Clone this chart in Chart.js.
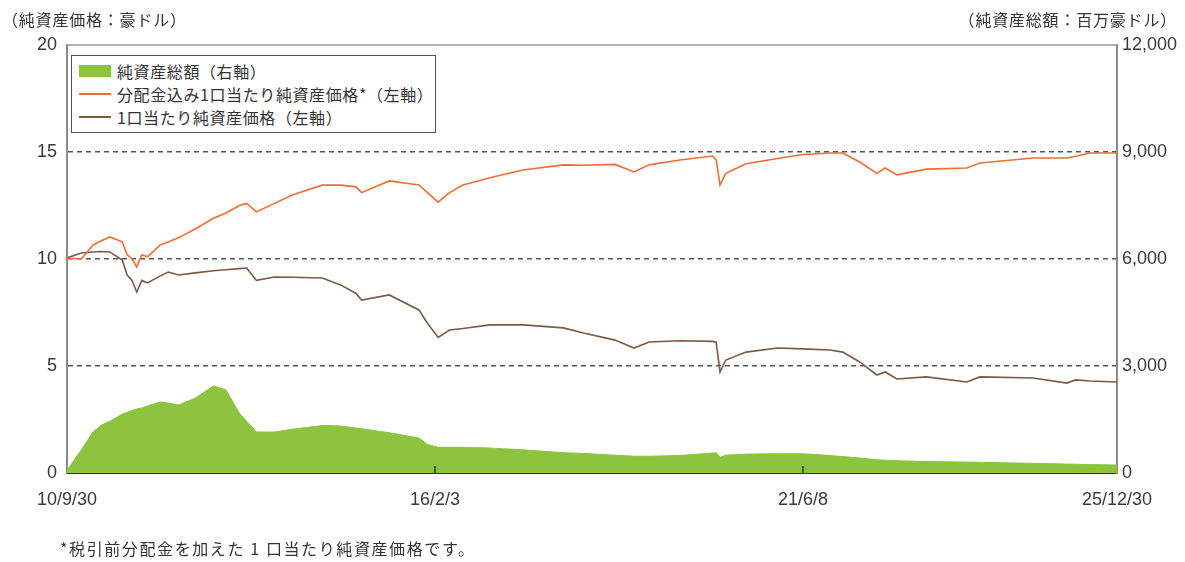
<!DOCTYPE html>
<html lang="ja">
<head>
<meta charset="utf-8">
<title>純資産価格と純資産総額の推移</title>
<script src="https://cdn.jsdelivr.net/npm/chart.js@4.4.1/dist/chart.umd.min.js"></script>
<style>
  body { margin: 0; background: #fff; }
  #wrap { position: relative; width: 1185px; height: 562px; font-family: "Noto Sans CJK JP", sans-serif; color: #333; }
  #wrap canvas { position: absolute; left: 0; top: 0; }
  .note { position: absolute; white-space: nowrap; font-size: 16px; letter-spacing: 0.8px; }
  #legend { position: absolute; left: 71px; top: 55px; width: 363px; border: 1.5px solid #555; background: #fff; padding: 3px 0 4px 0; }
  .item { display: flex; align-items: center; height: 23px; font-size: 16px; letter-spacing: 0.6px; }
  .swatch { width: 32px; margin: 0 6px 0 7px; }
</style>
</head>
<body>
<div id="wrap">
  <canvas id="navChart"></canvas>
  <div class="note" style="left:2px; top:7px;">（純資産価格：豪ドル）</div>
  <div class="note" style="right:8px; top:7px;">（純資産総額：百万豪ドル）</div>
  <div id="legend"></div>
  <div class="note" style="left:60px; top:536px; letter-spacing:1.6px;">*税引前分配金を加えた 1 口当たり純資産価格です。</div>
</div>
<script>
const dates = [
  "2010-09-30", "2010-12-15", "2011-02-15", "2011-04-01", "2011-05-15", "2011-07-20",
  "2011-08-15", "2011-09-10", "2011-10-05", "2011-11-01", "2011-12-01", "2012-02-05",
  "2012-03-20", "2012-05-15", "2012-08-10", "2012-11-15", "2013-01-20", "2013-04-01",
  "2013-05-10", "2013-07-01", "2013-10-05", "2014-01-10", "2014-06-15", "2014-09-20",
  "2014-12-10", "2015-01-10", "2015-06-05", "2015-11-10", "2015-12-25", "2016-02-20",
  "2016-04-20", "2016-07-01", "2016-11-20", "2017-05-15", "2017-12-15", "2018-04-01",
  "2018-09-15", "2018-12-25", "2019-03-15", "2019-08-25", "2020-02-15", "2020-03-05",
  "2020-03-25", "2020-04-25", "2020-08-10", "2021-01-25", "2021-06-08", "2021-10-30",
  "2022-01-05", "2022-04-05", "2022-07-05", "2022-08-18", "2022-10-20", "2023-03-25",
  "2023-10-25", "2024-01-03", "2024-10-12", "2025-04-08", "2025-05-25", "2025-08-10",
  "2025-12-30"
];

// 分配金込み1口当たり純資産価格 (豪ドル)
const navWithDist = [
  10.05, 10.0, 10.65, 10.85, 11.03, 10.8,
  10.2, 10.0, 9.63, 10.2, 10.1, 10.65,
  10.8, 11.0, 11.4, 11.9, 12.15, 12.5,
  12.6, 12.2, 12.6, 13.0, 13.45, 13.45,
  13.37, 13.1, 13.65, 13.46, 13.1, 12.66,
  13.1, 13.46, 13.8, 14.16, 14.4, 14.38,
  14.42, 14.07, 14.4, 14.63, 14.81, 14.63,
  13.46, 14.0, 14.45, 14.7, 14.88, 14.95,
  14.95, 14.53, 14.0, 14.25, 13.93, 14.2,
  14.25, 14.49, 14.72, 14.72, 14.8, 14.95,
  14.95
];

// 1口当たり純資産価格 (豪ドル)
const navPerUnit = [
  10.05, 10.28, 10.33, 10.35, 10.33, 9.95,
  9.25, 9.0, 8.46, 9.0, 8.88, 9.2,
  9.39, 9.25, 9.35, 9.45, 9.5, 9.55,
  9.58, 9.0, 9.16, 9.15, 9.11, 8.79,
  8.4, 8.08, 8.32, 7.62, 7.0, 6.33,
  6.68, 6.75, 6.92, 6.92, 6.78, 6.54,
  6.21, 5.84, 6.12, 6.18, 6.15, 6.1,
  4.72, 5.28, 5.65, 5.84, 5.8, 5.75,
  5.65, 5.19, 4.58, 4.72, 4.39, 4.49,
  4.25, 4.49, 4.44, 4.2, 4.35, 4.3,
  4.25
];

// 純資産総額 (百万豪ドル)
const totalAssets = [
  80, 645, 1150, 1345, 1450, 1650,
  1700, 1750, 1800, 1820, 1880, 1990,
  1960, 1905, 2100, 2440, 2330, 1680,
  1450, 1150, 1150, 1230, 1330, 1320,
  1260, 1240, 1130, 980, 800, 720,
  720, 720, 700, 650, 570, 550,
  500, 470, 470, 490, 560, 570,
  440, 500, 530, 540, 540, 490,
  460, 420, 370, 360, 345, 320,
  305, 300, 270, 250, 245, 235,
  225
];

const tickDates = ["2010-09-30", "2016-02-03", "2021-06-08", "2025-12-30"];
const tickLabels = ["10/9/30", "16/2/3", "21/6/8", "25/12/30"];

const xs = dates.map(d => Date.parse(d));
const toPoints = vals => xs.map((x, i) => ({ x: x, y: vals[i] }));

const tickFont = { family: "'Liberation Sans', Arial, sans-serif", size: 18 };

// top edge of the frame and small tick marks on the date axis
const framePlugin = {
  id: "frame",
  afterDatasetsDraw(chart) {
    const { ctx, chartArea } = chart;
    const xScale = chart.scales.x;
    ctx.save();
    ctx.strokeStyle = "#999";
    ctx.lineWidth = 1.5;
    ctx.beginPath();
    ctx.moveTo(chartArea.left, chartArea.top);
    ctx.lineTo(chartArea.right, chartArea.top);
    ctx.stroke();
    ctx.strokeStyle = "#333";
    ctx.lineWidth = 1.5;
    xScale.ticks.slice(1, -1).forEach(t => {
      const px = xScale.getPixelForValue(t.value);
      ctx.beginPath();
      ctx.moveTo(px, chartArea.bottom);
      ctx.lineTo(px, chartArea.bottom - 7);
      ctx.stroke();
    });
    ctx.restore();
  }
};

const chart = new Chart(document.getElementById("navChart"), {
  type: "line",
  data: {
    datasets: [
      {
        label: "純資産総額（右軸）",
        data: toPoints(totalAssets),
        yAxisID: "yRight",
        backgroundColor: "#8cc43f",
        borderColor: "#8cc43f",
        borderWidth: 1,
        fill: "origin",
        pointRadius: 0,
        order: 3
      },
      {
        label: "分配金込み1口当たり純資産価格*（左軸）",
        data: toPoints(navWithDist),
        yAxisID: "y",
        borderColor: "#ee6d33",
        borderWidth: 1.6,
        fill: false,
        pointRadius: 0,
        order: 1
      },
      {
        label: "1口当たり純資産価格（左軸）",
        data: toPoints(navPerUnit),
        yAxisID: "y",
        borderColor: "#7b5a43",
        borderWidth: 1.6,
        fill: false,
        pointRadius: 0,
        order: 2
      }
    ]
  },
  options: {
    responsive: true,
    maintainAspectRatio: false,
    animation: false,
    layout: { padding: { top: 45, left: 0, right: 0, bottom: 0 } },
    plugins: { legend: { display: false }, tooltip: { enabled: false } },
    scales: {
      x: {
        type: "linear",
        min: Date.parse(tickDates[0]),
        max: Date.parse(tickDates[tickDates.length - 1]),
        afterBuildTicks: scale => {
          scale.ticks = tickDates.map(d => ({ value: Date.parse(d) }));
        },
        afterFit: scale => { scale.height = 89; },
        grid: { display: false },
        border: { display: true, color: "#333", width: 2 },
        ticks: {
          autoSkip: false,
          maxRotation: 0,
          padding: 8,
          color: "#3a3a3a",
          font: tickFont,
          callback: (v, i) => tickLabels[i]
        }
      },
      y: {
        position: "left",
        min: 0,
        max: 20,
        afterFit: scale => { scale.width = 67; },
        ticks: { stepSize: 5, padding: 10, color: "#3a3a3a", font: tickFont },
        grid: {
          drawTicks: false,
          lineWidth: 1.5,
          color: c => (c.tick.value > 0 && c.tick.value < 20 ? "#555" : "rgba(0,0,0,0)")
        },
        border: { display: true, color: "#8a8a8a", width: 2, dash: [5, 4] }
      },
      yRight: {
        position: "right",
        min: 0,
        max: 12000,
        afterFit: scale => { scale.width = 68; },
        ticks: {
          stepSize: 3000,
          padding: 5,
          color: "#3a3a3a",
          font: tickFont,
          callback: v => v.toLocaleString("en-US")
        },
        grid: { display: false, drawTicks: false },
        border: { display: true, color: "#8a8a8a", width: 2 }
      }
    }
  },
  plugins: [framePlugin]
});

// legend box drawn in the top-left corner of the plot
const legend = document.getElementById("legend");
chart.data.datasets.forEach(ds => {
  const row = document.createElement("div");
  row.className = "item";
  const sw = document.createElement("span");
  sw.className = "swatch";
  if (ds.fill) {
    sw.style.height = "12px";
    sw.style.background = ds.backgroundColor;
  } else {
    sw.style.height = "2px";
    sw.style.background = ds.borderColor;
  }
  const txt = document.createElement("span");
  txt.textContent = ds.label;
  row.appendChild(sw);
  row.appendChild(txt);
  legend.appendChild(row);
});
</script>
</body>
</html>
